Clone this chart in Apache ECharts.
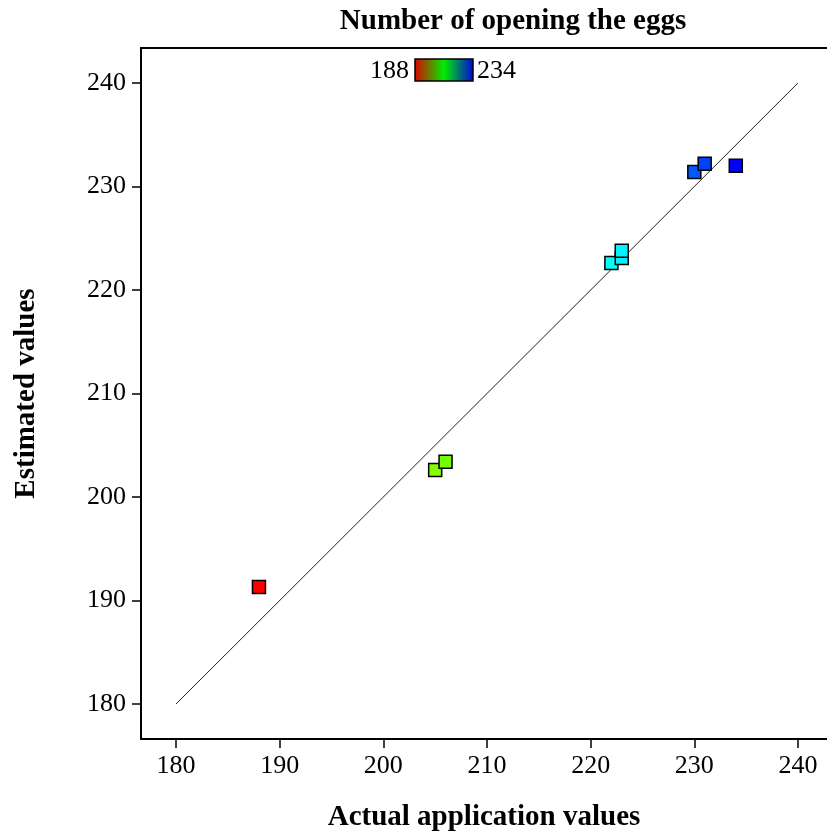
<!DOCTYPE html>
<html>
<head>
    <meta charset="utf-8">
    <title>Number of opening the eggs</title>
    <script src="https://cdn.jsdelivr.net/npm/echarts@6/dist/echarts.min.js"></script>
    <style>
        html, body { margin: 0; padding: 0; background: #fff; }
    </style>
</head>
<body>
<div id="main" style="width: 827px;height:833px;"></div>

<script type="text/javascript">
    // actual vs estimated values
    var actualValues = [188, 205, 206, 222, 223, 223, 230, 231, 234];
    var estimatedValues = [191.3, 202.6, 203.4, 222.6, 223.1, 223.8, 231.4, 232.2, 232.0];

    // reference line y = x
    var lineX = [180, 240];
    var lineY = [180, 240];

    var tickValues = [180, 190, 200, 210, 220, 230, 240];
    var colorMin = 188;
    var colorMax = 234;

    var serif = '"Liberation Serif", "Times New Roman", serif';

    var myChart = echarts.init(document.getElementById('main'));

    var points = actualValues.map(function (v, i) {
        return [v, estimatedValues[i]];
    });
    var line = lineX.map(function (v, i) {
        return [v, lineY[i]];
    });

    var option = {
        backgroundColor: '#fff',
        animation: false,
        title: {
            text: 'Number of opening the eggs',
            left: 508,
            textAlign: 'center',
            top: 2,
            textStyle: {
                fontFamily: serif,
                fontWeight: 'bold',
                fontSize: 29,
                color: '#000'
            }
        },
        grid: {
            left: 141,
            right: 0,
            top: 48,
            bottom: 94,
            containLabel: false,
            outerBoundsMode: 'none'
        },
        visualMap: {
            show: false,
            type: 'continuous',
            seriesIndex: 1,
            dimension: 0,
            min: colorMin,
            max: colorMax,
            inRange: {
                color: ['#ff0000', '#ffff00', '#00ff00', '#00ffff', '#0000ff']
            }
        },
        graphic: [{
            type: 'rect',
            shape: { x: 415, y: 59, width: 58, height: 22 },
            style: {
                stroke: '#000',
                lineWidth: 1.5,
                fill: new echarts.graphic.LinearGradient(0, 0, 1, 0, [
                    { offset: 0, color: '#e00000' },
                    { offset: 0.5, color: '#00ee00' },
                    { offset: 1, color: '#0000e0' }
                ])
            }
        }, {
            type: 'text',
            x: 409,
            y: 71,
            style: {
                text: String(colorMin),
                fontFamily: serif,
                fontSize: 26,
                fill: '#000',
                align: 'right',
                verticalAlign: 'middle'
            }
        }, {
            type: 'text',
            x: 477,
            y: 71,
            style: {
                text: String(colorMax),
                fontFamily: serif,
                fontSize: 26,
                fill: '#000',
                align: 'left',
                verticalAlign: 'middle'
            }
        }],
        xAxis: [{
            type: 'value',
            min: 176.62,
            max: 242.8,
            name: 'Actual application values',
            nameLocation: 'middle',
            nameGap: 64,
            nameTextStyle: {
                fontFamily: serif,
                fontWeight: 'bold',
                fontSize: 29,
                color: '#000'
            },
            axisLine: { show: true, lineStyle: { color: '#000', width: 2 } },
            axisTick: {
                show: true,
                length: 9,
                customValues: tickValues,
                lineStyle: { color: '#000', width: 1.5 }
            },
            axisLabel: {
                customValues: tickValues,
                margin: 14,
                fontFamily: serif,
                fontSize: 26,
                color: '#000'
            },
            splitLine: { show: false }
        }, {
            type: 'value',
            position: 'top',
            min: 176.62,
            max: 242.8,
            axisLine: { show: true, lineStyle: { color: '#000', width: 2 } },
            axisTick: { show: false },
            axisLabel: { show: false },
            splitLine: { show: false }
        }],
        yAxis: {
            type: 'value',
            min: 176.62,
            max: 243.38,
            name: 'Estimated values',
            nameLocation: 'middle',
            nameGap: 100,
            nameTextStyle: {
                fontFamily: serif,
                fontWeight: 'bold',
                fontSize: 29,
                color: '#000'
            },
            axisLine: { show: true, lineStyle: { color: '#000', width: 2 } },
            axisTick: {
                show: true,
                length: 9,
                customValues: tickValues,
                lineStyle: { color: '#000', width: 1.5 }
            },
            axisLabel: {
                customValues: tickValues,
                margin: 15,
                fontFamily: serif,
                fontSize: 26,
                color: '#000'
            },
            splitLine: { show: false }
        },
        series: [{
            type: 'line',
            data: line,
            symbol: 'none',
            silent: true,
            lineStyle: { color: '#222', width: 1 },
            z: 1
        }, {
            type: 'scatter',
            data: points,
            symbol: 'rect',
            symbolSize: 13,
            itemStyle: {
                borderColor: '#000',
                borderWidth: 1.5,
                opacity: 1
            },
            z: 3
        }]
    };

    myChart.setOption(option);
</script>
</body>
</html>
